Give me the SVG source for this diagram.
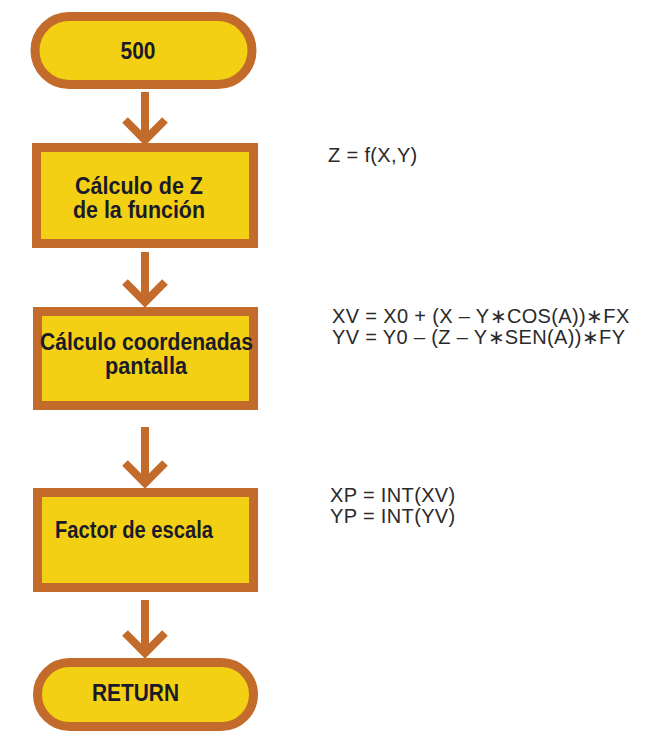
<svg xmlns="http://www.w3.org/2000/svg" width="653" height="734" viewBox="0 0 653 734">
<style>
.shape{fill:#f3d013;stroke:#c36b2b;stroke-width:9}
.lbl{font-family:"Liberation Sans",Arial,sans-serif;font-weight:bold;font-size:23px;fill:#1b1a2a;text-anchor:middle}
.f{font-family:"Liberation Sans",Arial,sans-serif;font-size:20px;fill:#2a2a2a;letter-spacing:0.35px}
.arr{fill:none;stroke:#c36b2b;stroke-width:8;stroke-linecap:butt;stroke-linejoin:miter}
</style>
<rect width="653" height="734" fill="#ffffff"/>
<g id="connectors">
<path class="arr" d="M145,92 V139 M125,120 L145,140 L165,120"/>
<path class="arr" d="M145,252 V302 M125,282 L145,302 L165,282"/>
<path class="arr" d="M145,427 V483 M125,463 L145,483 L165,463"/>
<path class="arr" d="M145,600 V653 M125,633 L145,653 L165,633"/>
</g>
<g id="start">
<rect class="shape" x="35" y="16.5" width="217" height="68" rx="34"/>
<text class="lbl" x="138" y="59" textLength="35" lengthAdjust="spacingAndGlyphs">500</text>
</g>
<g id="calc-z">
<rect class="shape" x="36.5" y="147.5" width="217" height="96"/>
<text class="lbl" x="139" y="194" textLength="128" lengthAdjust="spacingAndGlyphs">Cálculo de Z</text>
<text class="lbl" x="139" y="218" textLength="132" lengthAdjust="spacingAndGlyphs">de la función</text>
</g>
<g id="calc-coord">
<rect class="shape" x="37.5" y="311.5" width="216" height="94"/>
<text class="lbl" x="146.5" y="350" textLength="213" lengthAdjust="spacingAndGlyphs">Cálculo coordenadas</text>
<text class="lbl" x="146" y="374" textLength="82" lengthAdjust="spacingAndGlyphs">pantalla</text>
</g>
<g id="escala">
<rect class="shape" x="37.5" y="492.5" width="216" height="95"/>
<text class="lbl" x="134" y="538" textLength="158" lengthAdjust="spacingAndGlyphs">Factor de escala</text>
</g>
<g id="return">
<rect class="shape" x="37.5" y="662.5" width="216" height="64" rx="32"/>
<text class="lbl" x="135.5" y="701" textLength="87" lengthAdjust="spacingAndGlyphs">RETURN</text>
</g>
<g id="formulas">
<text class="f" x="328" y="162">Z = f(X,Y)</text>
<text class="f" x="332" y="323">XV = X0 + (X – Y∗COS(A))∗FX</text>
<text class="f" x="332" y="344">YV = Y0 – (Z – Y∗SEN(A))∗FY</text>
<text class="f" x="330" y="502">XP = INT(XV)</text>
<text class="f" x="330" y="523">YP = INT(YV)</text>
</g>
</svg>
